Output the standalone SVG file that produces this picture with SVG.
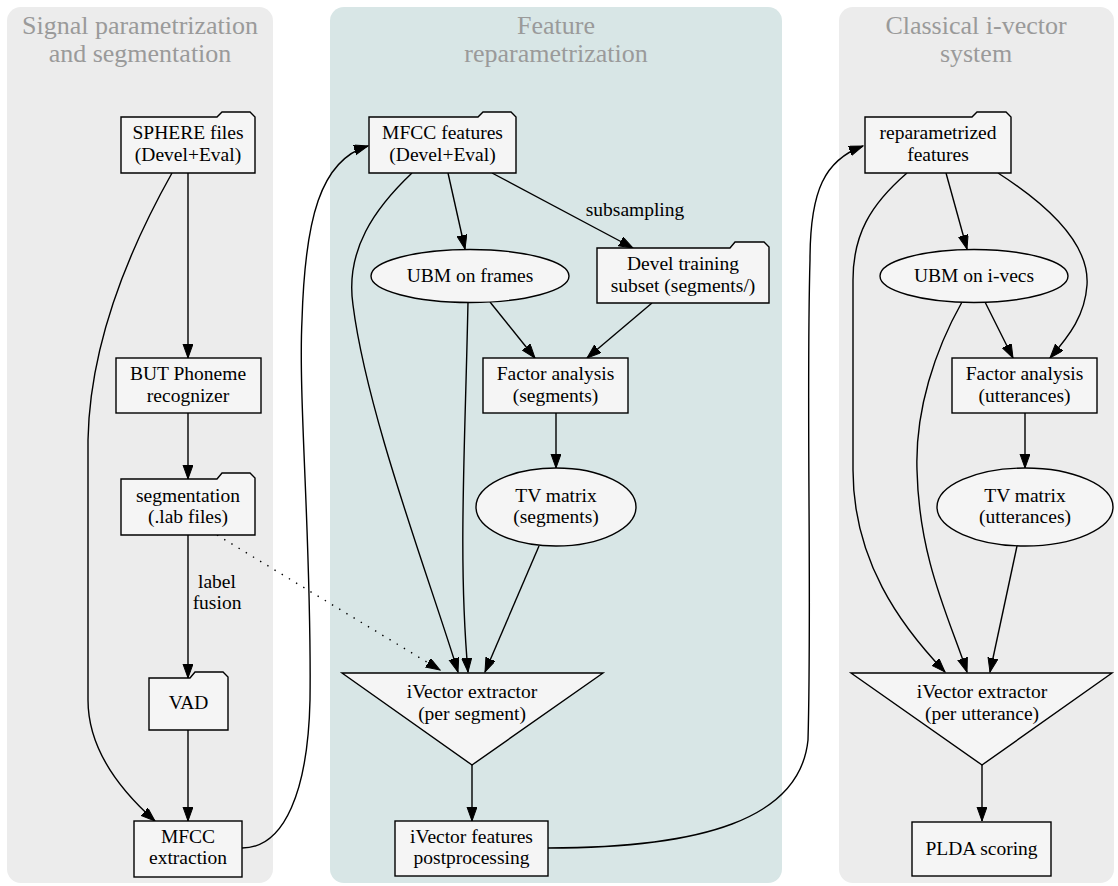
<svg xmlns="http://www.w3.org/2000/svg" width="1118" height="886" viewBox="0 0 1118 886">
<defs>
<marker id="ah" markerWidth="15" markerHeight="11" refX="14" refY="5" orient="auto" markerUnits="userSpaceOnUse">
<path d="M0,0 L14,5 L0,10 Z" fill="#000" stroke="#000" stroke-width="1"/>
</marker>
<style>
.cl{fill:#ececec;stroke:none}
.clm{fill:#d8e6e6;stroke:none}
.title{font-family:'Liberation Serif','Times New Roman',Times,'DejaVu Serif',serif;font-size:26px;fill:#9a9a9a;text-anchor:middle}
.n{fill:#f5f5f5;stroke:#000;stroke-width:1.4}
.t{font-family:'Liberation Serif','Times New Roman',Times,'DejaVu Serif',serif;font-size:19.5px;fill:#000;text-anchor:middle}
.e{fill:none;stroke:#000;stroke-width:1.4;marker-end:url(#ah)}
.d{fill:none;stroke:#000;stroke-width:1.4;stroke-dasharray:1.4 7;marker-end:url(#ah)}
</style>
</defs>
<rect width="1118" height="886" fill="#fff"/>
<g id="cluster_signal">
<rect class="cl" x="7" y="7" width="266" height="876" rx="14"/>
<text class="title" x="140" y="34" font-family="Liberation Serif, serif">Signal parametrization</text>
<text class="title" x="140" y="62">and segmentation</text>
</g>
<g id="cluster_feature">
<rect class="clm" x="330" y="7" width="452" height="876" rx="14"/>
<text class="title" x="556" y="34">Feature</text>
<text class="title" x="556" y="62">reparametrization</text>
</g>
<g id="cluster_classical">
<rect class="cl" x="839" y="7" width="275" height="876" rx="14"/>
<text class="title" x="976" y="34">Classical i-vector</text>
<text class="title" x="976" y="62">system</text>
</g>
<g id="connectors">
<path class="e" d="M188,173 L188,358"/>
<path class="e" d="M188,413 L188,479"/>
<path class="e" d="M188,535 L188,678"/>
<path class="e" d="M188,730 L188,821"/>
<path class="e" d="M172,173 C140,230 90,330 88,440 L88,700 C88,750 120,790 155,821"/>
<path class="d" d="M217,535 L440,670"/>
<path class="e" d="M242,848 C285,848 308,790 310,700 C312,550 298,400 302,320 C305,220 320,160 368,146"/>
<path class="e" d="M448,173 L465,249"/>
<path class="e" d="M492,173 L633,248"/>
<path class="e" d="M412,173 C375,208 345,250 353,305 C367,415 430,580 458,672"/>
<path class="e" d="M468,302 C465,450 458,560 468,672"/>
<path class="e" d="M490,302 L535,358"/>
<path class="e" d="M652,303 L587,358"/>
<path class="e" d="M556,413 L556,468"/>
<path class="e" d="M539,546 L485,672"/>
<path class="e" d="M472,765 L472,821"/>
<path class="e" d="M548,848 C700,848 800,820 808,740 C812,600 806,400 810,260 C810,190 825,160 863,146"/>
<path class="e" d="M946,173 L967,249"/>
<path class="e" d="M998,173 C1040,200 1090,240 1087,285 C1085,315 1070,335 1050,358"/>
<path class="e" d="M907,173 C870,205 853,235 853,280 L853,470 C853,560 900,625 945,672"/>
<path class="e" d="M985,302 L1013,358"/>
<path class="e" d="M962,302 C935,350 915,410 917,470 C919,560 950,620 967,672"/>
<path class="e" d="M1025,413 L1025,468"/>
<path class="e" d="M1017,546 L990,672"/>
<path class="e" d="M982,765 L982,821"/>
<text class="t" x="635" y="216">subsampling</text>
<text class="t" x="217" y="588">label</text>
<text class="t" x="217" y="609">fusion</text>
</g>
<g id="sphere">
<path class="n" d="M121,117 L217,117 L222,112 L250,112 L255,117 L255,173 L121,173 Z"/>
<text class="t" x="188" y="139">SPHERE files</text>
<text class="t" x="188" y="161">(Devel+Eval)</text>
</g>
<g id="but">
<rect class="n" x="116" y="358" width="145" height="55"/>
<text class="t" x="188" y="380">BUT Phoneme</text>
<text class="t" x="188" y="402">recognizer</text>
</g>
<g id="segmentation">
<path class="n" d="M121,479 L217,479 L222,473 L250,473 L255,478 L255,535 L121,535 Z"/>
<text class="t" x="188" y="502">segmentation</text>
<text class="t" x="188" y="523">(.lab files)</text>
</g>
<g id="vad">
<path class="n" d="M149,678 L190,678 L195,672 L223,672 L228,677 L228,730 L149,730 Z"/>
<text class="t" x="188.5" y="709">VAD</text>
</g>
<g id="mfcc_extraction">
<rect class="n" x="134" y="821" width="108" height="56"/>
<text class="t" x="188" y="843">MFCC</text>
<text class="t" x="188" y="864">extraction</text>
</g>
<g id="mfcc_features">
<path class="n" d="M369,117 L478,117 L483,112 L511,112 L516,117 L516,173 L369,173 Z"/>
<text class="t" x="442.5" y="139">MFCC features</text>
<text class="t" x="442.5" y="161">(Devel+Eval)</text>
</g>
<g id="ubm_frames">
<ellipse class="n" cx="470" cy="276" rx="99" ry="26.5"/>
<text class="t" x="470" y="282">UBM on frames</text>
</g>
<g id="devel_subset">
<path class="n" d="M597,248 L730,248 L735,242 L764,242 L769,247 L769,303 L597,303 Z"/>
<text class="t" x="683" y="270">Devel training</text>
<text class="t" x="683" y="292">subset (segments/)</text>
</g>
<g id="fa_segments">
<rect class="n" x="483" y="358" width="145" height="55"/>
<text class="t" x="555.5" y="380">Factor analysis</text>
<text class="t" x="555.5" y="402">(segments)</text>
</g>
<g id="tv_segments">
<ellipse class="n" cx="556" cy="507" rx="80" ry="39"/>
<text class="t" x="556" y="502">TV matrix</text>
<text class="t" x="556" y="523">(segments)</text>
</g>
<g id="ivec_segment">
<path class="n" d="M342,673 L603,673 L472,765 Z"/>
<text class="t" x="472" y="698">iVector extractor</text>
<text class="t" x="472" y="720">(per segment)</text>
</g>
<g id="ivec_post">
<rect class="n" x="395" y="821" width="153" height="55"/>
<text class="t" x="471.5" y="843">iVector features</text>
<text class="t" x="471.5" y="864">postprocessing</text>
</g>
<g id="reparam">
<path class="n" d="M865,117 L972,117 L977,112 L1006,112 L1011,117 L1011,173 L865,173 Z"/>
<text class="t" x="938" y="139">reparametrized</text>
<text class="t" x="938" y="161">features</text>
</g>
<g id="ubm_ivecs">
<ellipse class="n" cx="974" cy="276" rx="94" ry="26.5"/>
<text class="t" x="974" y="282">UBM on i-vecs</text>
</g>
<g id="fa_utt">
<rect class="n" x="952" y="358" width="145" height="55"/>
<text class="t" x="1024.5" y="380">Factor analysis</text>
<text class="t" x="1024.5" y="402">(utterances)</text>
</g>
<g id="tv_utt">
<ellipse class="n" cx="1025" cy="507" rx="88" ry="39"/>
<text class="t" x="1025" y="502">TV matrix</text>
<text class="t" x="1025" y="523">(utterances)</text>
</g>
<g id="ivec_utt">
<path class="n" d="M851,673 L1112,673 L982,765 Z"/>
<text class="t" x="982" y="698">iVector extractor</text>
<text class="t" x="982" y="720">(per utterance)</text>
</g>
<g id="plda">
<rect class="n" x="912" y="822" width="139" height="54"/>
<text class="t" x="981.5" y="855">PLDA scoring</text>
</g>
</svg>
